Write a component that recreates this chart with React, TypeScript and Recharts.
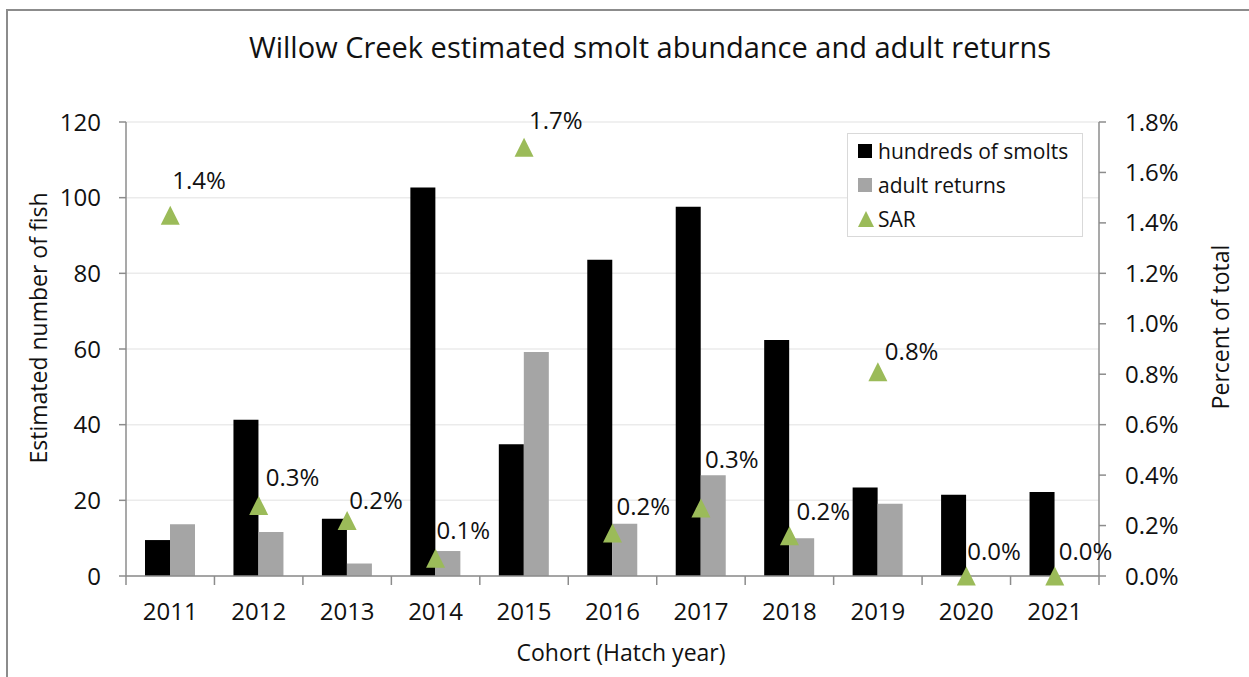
import { ComposedChart, Bar, Line, XAxis, YAxis, CartesianGrid, Legend, LabelList } from 'recharts';

// cohort data
const years = ['2011', '2012', '2013', '2014', '2015', '2016', '2017', '2018', '2019', '2020', '2021'];
const smolts = [9.5, 41.3, 15.1, 102.7, 34.8, 83.6, 97.6, 62.4, 23.4, 21.5, 22.2];
const adults = [13.7, 11.6, 3.3, 6.6, 59.2, 13.8, 26.6, 10.0, 19.1, 0, 0];
const sar = [1.43, 0.28, 0.22, 0.07, 1.7, 0.17, 0.27, 0.16, 0.81, 0, 0];

const leftTicks = [0, 20, 40, 60, 80, 100, 120];
const rightTicks = [0, 0.2, 0.4, 0.6, 0.8, 1.0, 1.2, 1.4, 1.6, 1.8];

// hand-placed label offsets (dx, dy) as in the original
const labelNudge = [
  [2, -26], [7, -19], [2, -12], [1, -19], [5, -18], [4, -18],
  [4, -40], [7, -16], [7, -12], [1, -16], [4, -16],
];

const data = years.map((year, i) => ({
  year,
  smolts: smolts[i],
  adults: adults[i],
  sar: sar[i],
}));

const W = 1249;
const H = 677;
const PLOT_LEFT = 126;
const PLOT_RIGHT = 1099;
const BAND = (PLOT_RIGHT - PLOT_LEFT) / years.length;
const AXIS = '#8c8c8c';
const GREEN = '#9BBB59';
const FONT = '"Open Sans", sans-serif';

function XTick(props: any) {
  const { x, y, payload, index } = props;
  const half = BAND / 2;
  return (
    <g>
      <line x1={x - half} x2={x - half} y1={y} y2={y + 9} stroke={AXIS} strokeWidth={1.5} />
      {index === years.length - 1 && (
        <line x1={x + half} x2={x + half} y1={y} y2={y + 9} stroke={AXIS} strokeWidth={1.5} />
      )}
      <text x={x} y={y + 27} dy="0.71em" textAnchor="middle" fontSize={24} fill="#111">
        {payload.value}
      </text>
    </g>
  );
}

function Triangle(props: any) {
  const { cx, cy, index } = props;
  if (cx == null || cy == null) return null;
  const s = 9.5;
  return (
    <polygon
      key={`tri-${index}`}
      points={`${cx},${cy - s} ${cx + s},${cy + s} ${cx - s},${cy + s}`}
      fill={GREEN}
    />
  );
}

function SarLabel(props: any) {
  const { x, y, value, index } = props;
  const [dx, dy] = labelNudge[index] || [4, -18];
  return (
    <text x={x + dx} y={y + dy} fontSize={24} fill="#111" textAnchor="start">
      {Number(value).toFixed(1)}%
    </text>
  );
}

function LegendBox() {
  const row = { display: 'flex', alignItems: 'center', height: 34 } as const;
  return (
    <div
      style={{
        width: 236,
        height: 104,
        border: '1px solid #d9d9d9',
        background: '#fff',
        fontFamily: FONT,
        fontSize: 21,
        color: '#111',
        padding: '0 0 0 10px',
        boxSizing: 'border-box',
      }}
    >
      <div style={row}>
        <span style={{ width: 14, height: 14, background: '#000', marginRight: 6 }} />
        hundreds of smolts
      </div>
      <div style={row}>
        <span style={{ width: 14, height: 14, background: '#A5A5A5', marginRight: 6 }} />
        adult returns
      </div>
      <div style={row}>
        <svg width={16} height={16} style={{ marginRight: 4 }}>
          <polygon points="8,0 16,16 0,16" fill={GREEN} />
        </svg>
        SAR
      </div>
    </div>
  );
}

export default function App() {
  return (
    <div
      style={{
        position: 'absolute',
        left: 0,
        top: 0,
        width: W,
        height: H,
        overflow: 'hidden',
        background: '#fff',
        fontFamily: FONT,
      }}
    >
      <div
        style={{
          position: 'absolute',
          left: 6,
          top: 9,
          width: W,
          height: H,
          borderLeft: `2px solid ${AXIS}`,
          borderTop: `2px solid ${AXIS}`,
        }}
      />
      <div
        style={{
          position: 'absolute',
          left: 0,
          width: 1300,
          top: 28,
          textAlign: 'center',
          fontSize: 29,
          color: '#111',
          lineHeight: '38px',
        }}
      >
        Willow Creek estimated smolt abundance and adult returns
      </div>
      <ComposedChart
        width={W}
        height={H}
        data={data}
        margin={{ top: 122, right: 0, bottom: 0, left: 0 }}
        barGap={0}
        style={{ position: 'absolute', left: 0, top: 0 }}
      >
        <CartesianGrid yAxisId="left" vertical={false} stroke="#ebebeb" strokeWidth={1.5} />
        <XAxis
          dataKey="year"
          height={H - 576}
          axisLine={{ stroke: AXIS, strokeWidth: 1.5 }}
          tickLine={false}
          tickSize={0}
          tickMargin={0}
          interval={0}
          tick={<XTick />}
          label={{
            content: () => (
              <text x={621} y={652} textAnchor="middle" dominantBaseline="central" fontSize={23} fill="#111">
                Cohort (Hatch year)
              </text>
            ),
          }}
        />
        <YAxis
          yAxisId="left"
          width={PLOT_LEFT}
          domain={[0, 120]}
          ticks={leftTicks}
          interval={0}
          axisLine={{ stroke: AXIS, strokeWidth: 1.5 }}
          tickLine={{ stroke: AXIS, strokeWidth: 1.5 }}
          tickSize={7}
          tickMargin={18}
          tick={{ fontSize: 24, fill: '#111' }}
          label={{
            content: () => (
              <text
                x={38}
                y={328}
                transform="rotate(-90 38 328)"
                textAnchor="middle"
                dominantBaseline="central"
                fontSize={23}
                fill="#111"
              >
                Estimated number of fish
              </text>
            ),
          }}
        />
        <YAxis
          yAxisId="right"
          orientation="right"
          width={W - PLOT_RIGHT}
          domain={[0, 1.8]}
          ticks={rightTicks}
          interval={0}
          axisLine={{ stroke: AXIS, strokeWidth: 1.5 }}
          tickLine={{ stroke: AXIS, strokeWidth: 1.5 }}
          tickSize={7}
          tickMargin={19}
          tick={{ fontSize: 24, fill: '#111', textAnchor: 'start' }}
          tickFormatter={(v: number) => `${v.toFixed(1)}%`}
          label={{
            content: () => (
              <text
                x={1220}
                y={327}
                transform="rotate(-90 1220 327)"
                textAnchor="middle"
                dominantBaseline="central"
                fontSize={23}
                fill="#111"
              >
                Percent of total
              </text>
            ),
          }}
        />
        <Bar yAxisId="left" dataKey="smolts" name="hundreds of smolts" fill="#000000" barSize={25} isAnimationActive={false} />
        <Bar yAxisId="left" dataKey="adults" name="adult returns" fill="#A5A5A5" barSize={25} isAnimationActive={false} />
        <Line
          yAxisId="right"
          dataKey="sar"
          name="SAR"
          stroke="none"
          dot={(p: any) => <Triangle key={`d-${p.index}`} {...p} />}
          activeDot={false}
          isAnimationActive={false}
        >
          <LabelList dataKey="sar" content={<SarLabel />} />
        </Line>
        <Legend
          layout="vertical"
          align="center"
          verticalAlign="middle"
          content={() => <LegendBox />}
          wrapperStyle={{ position: 'absolute', left: 847, top: 133, width: 236, height: 104 }}
        />
      </ComposedChart>
    </div>
  );
}
